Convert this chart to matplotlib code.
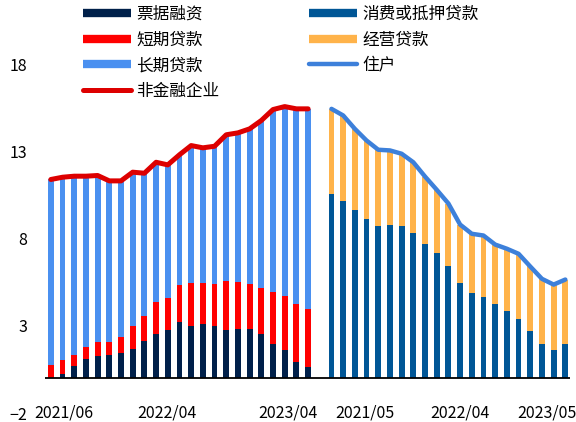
import matplotlib.pyplot as plt
from matplotlib.lines import Line2D

plt.rcParams['font.family'] = ['Noto Sans CJK SC', 'DejaVu Sans']

# 非金融企业 (2021/06 - 2023/04)
bill = [0.0, 0.23, 0.69, 1.10, 1.30, 1.36, 1.44, 1.67, 2.14, 2.53, 2.76, 3.25,
        3.02, 3.14, 3.00, 2.79, 2.84, 2.82, 2.55, 1.98, 1.63, 0.94, 0.63]
bill_short = [0.75, 1.03, 1.36, 1.78, 2.07, 2.07, 2.37, 2.99, 3.56, 4.37, 4.60, 5.36,
              5.48, 5.48, 5.44, 5.59, 5.53, 5.44, 5.19, 4.96, 4.73, 4.24, 3.95]
corp_total = [11.42, 11.55, 11.61, 11.61, 11.65, 11.34, 11.34, 11.84, 11.78, 12.41, 12.26, 12.84,
              13.37, 13.24, 13.33, 13.99, 14.10, 14.33, 14.81, 15.44, 15.61, 15.48, 15.48]

# 住户 (2021/05 - 2023/05)
consumer = [10.61, 10.21, 9.64, 9.16, 8.76, 8.82, 8.76, 8.37, 7.70, 7.17, 6.46,
            5.50, 4.89, 4.64, 4.24, 3.89, 3.43, 2.70, 1.94, 1.61, 1.94]
house_total = [15.48, 15.10, 14.33, 13.66, 13.13, 13.09, 12.90, 12.41, 11.59, 10.83, 10.04,
               8.83, 8.30, 8.20, 7.68, 7.44, 7.15, 6.42, 5.71, 5.38, 5.67]

tick_labels = ['2021/06', '2022/04', '2023/04', '2021/05', '2022/04', '2023/05']
tick_pos = [1.1, 9.9, 20.3, 26.9, 35.0, 42.4]

short = [s - b for s, b in zip(bill_short, bill)]
long_ = [t - s for t, s in zip(corp_total, bill_short)]
business = [t - c for t, c in zip(house_total, consumer)]

x1 = list(range(len(bill)))
x2 = [len(bill) + 1 + i for i in range(len(consumer))]

c_bill, c_short, c_long, c_corp = '#00204A', '#FF0000', '#4A90F0', '#DD0000'
c_cons, c_bus, c_house = '#005696', '#FFB34A', '#3D80DA'

fig = plt.figure(figsize=(5.76, 4.22), dpi=100)
ax = fig.add_axes([45 / 576, 9 / 422, 525 / 576, 348 / 422])

w = 0.5
ax.bar(x1, bill, w, color=c_bill)
ax.bar(x1, short, w, bottom=bill, color=c_short)
ax.bar(x1, long_, w, bottom=bill_short, color=c_long)
ax.plot(x1, corp_total, color=c_corp, lw=3.6, solid_capstyle='round', solid_joinstyle='round')

ax.bar(x2, consumer, w, color=c_cons)
ax.bar(x2, business, w, bottom=consumer, color=c_bus)
ax.plot(x2, house_total, color=c_house, lw=3.2, solid_capstyle='round', solid_joinstyle='round')

ax.axhline(0, color='black', lw=1.3)
ax.set_xlim(-0.5, 44.4)
ax.set_ylim(-2, 18)
ax.set_yticks([-2, 3, 8, 13, 18])
ax.tick_params(axis='y', length=0, pad=13, labelsize=11.5)
ax.set_xticks([])
for s in ax.spines.values():
    s.set_visible(False)
for p, t in zip(tick_pos, tick_labels):
    ax.text(p, -2, t, ha='center', va='center', fontsize=11.5, clip_on=False)

handles = [
    Line2D([], [], color=c_bill, lw=6, solid_capstyle='butt'),
    Line2D([], [], color=c_short, lw=6, solid_capstyle='butt'),
    Line2D([], [], color=c_long, lw=6, solid_capstyle='butt'),
    Line2D([], [], color=c_corp, lw=3.6, solid_capstyle='round'),
    Line2D([], [], color=c_cons, lw=6, solid_capstyle='butt'),
    Line2D([], [], color=c_bus, lw=6, solid_capstyle='butt'),
    Line2D([], [], color=c_house, lw=3.2, solid_capstyle='round'),
]
labels = ['票据融资', '短期贷款', '长期贷款', '非金融企业', '消费或抵押贷款', '经营贷款', '住户']
fig.legend(handles, labels, ncol=2, loc='upper left', bbox_to_anchor=(83 / 576, 1 - 6 / 422),
           frameon=False, fontsize=12, handlelength=2.85, handletextpad=0.35,
           borderpad=0, borderaxespad=0, labelspacing=0.52, columnspacing=5.4)

fig.savefig('out.png', dpi=100)
